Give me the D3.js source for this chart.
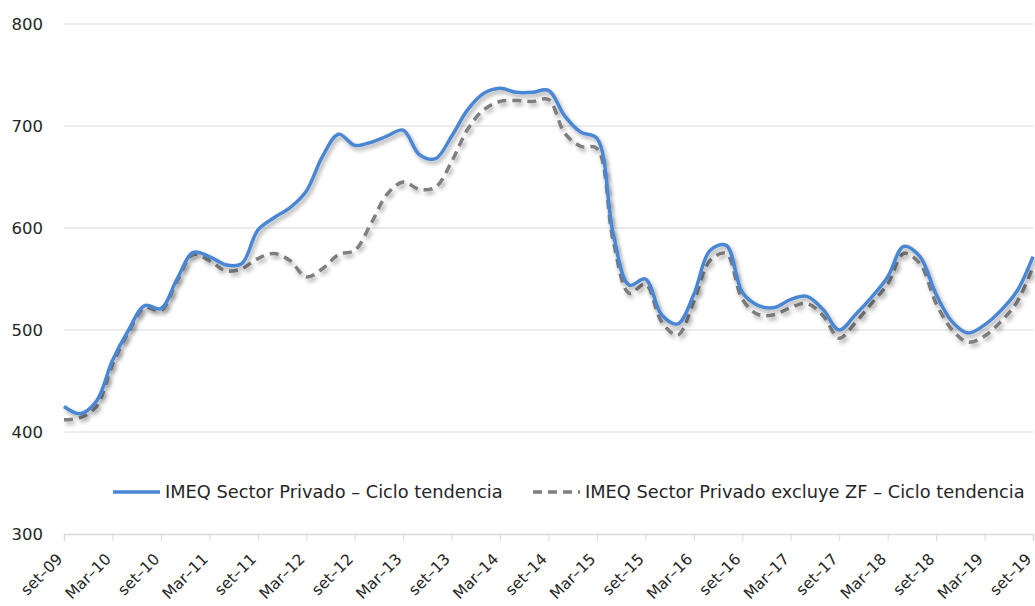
<!DOCTYPE html>
<html>
<head>
<meta charset="utf-8">
<script src="https://cdn.jsdelivr.net/npm/d3@7"></script>
<style>
  body { margin: 0; background: #fff; }
  text { font-family: "DejaVu Sans", sans-serif; fill: #262626; }
</style>
</head>
<body>
<svg id="chart"></svg>
<script>
// bimonthly points, set-09 .. set-19 (month offsets 0,2,...,120)
const months = d3.range(0, 121, 2);

const imeq = [
  425, 418, 430, 470, 500, 524, 521, 550, 576, 572, 564,
  565, 598, 610, 620, 636, 670, 692, 681, 684, 690, 696,
  672, 668, 690, 716, 732, 737, 733, 733, 735, 710, 694,
  688, 595, 544, 550, 515, 506, 535, 578, 583, 537, 524,
  522, 530, 533, 520, 500, 515, 532, 552, 582, 572, 535,
  508, 497, 505, 519, 538, 572
];

const imeqExZF = [
  412, 414, 425, 466, 498, 522, 519, 548, 574, 568, 558,
  560, 570, 575, 568, 552, 560, 574, 578, 604, 633, 645,
  638, 640, 665, 697, 716, 724, 725, 724, 726, 693, 680,
  678, 588, 536, 545, 508, 495, 528, 568, 575, 530, 515,
  515, 522, 526, 514, 492, 507, 526, 545, 575, 565, 526,
  500, 488, 494, 508, 527, 562
];

const tickLabels = [
  "set–09", "Mar–10", "set–10", "Mar–11", "set–11", "Mar–12", "set–12",
  "Mar–13", "set–13", "Mar–14", "set–14", "Mar–15", "set–15", "Mar–16",
  "set–16", "Mar–17", "set–17", "Mar–18", "set–18", "Mar–19", "set–19"
];
const yTicks = [300, 400, 500, 600, 700, 800];

const seriesNames = [
  "IMEQ Sector Privado – Ciclo tendencia",
  "IMEQ Sector Privado excluye ZF – Ciclo tendencia"
];

const width = 1035, height = 606;
const margin = { top: 24, right: 2, bottom: 72, left: 64 };

const svg = d3.select("#chart").attr("width", width).attr("height", height);

// drop shadow like the office chart
const defs = svg.append("defs");
const f = defs.append("filter").attr("id", "shadow")
  .attr("x", "-5%").attr("y", "-5%").attr("width", "110%").attr("height", "120%");
f.append("feDropShadow")
  .attr("dx", 2).attr("dy", 3).attr("stdDeviation", 2)
  .attr("flood-color", "#000").attr("flood-opacity", 0.35);

const x = d3.scaleLinear().domain([0, 120]).range([margin.left, width - margin.right]);
const y = d3.scaleLinear().domain([300, 800]).range([height - margin.bottom, margin.top]);

// grid
svg.append("g")
  .selectAll("line")
  .data(yTicks.slice(1))
  .join("line")
  .attr("x1", margin.left).attr("x2", width - margin.right)
  .attr("y1", d => y(d)).attr("y2", d => y(d))
  .attr("stroke", "#d9d9d9").attr("stroke-width", 1);

// y labels
svg.append("g")
  .selectAll("text")
  .data(yTicks)
  .join("text")
  .attr("x", 43).attr("y", d => y(d))
  .attr("dy", "0.35em")
  .attr("text-anchor", "end")
  .style("font-size", "16.5px")
  .text(d => d);

// x axis
const xAxis = d3.axisBottom(x)
  .tickValues(d3.range(0, 121, 6))
  .tickSize(7)
  .tickFormat((d, i) => tickLabels[i]);

const gx = svg.append("g")
  .attr("transform", `translate(0,${y(300)})`)
  .call(xAxis);
gx.select(".domain").attr("stroke", "#d9d9d9").attr("stroke-width", 1.5);
gx.selectAll(".tick line").attr("stroke", "#d9d9d9");
gx.selectAll(".tick text")
  .attr("text-anchor", "end")
  .attr("dy", null).attr("y", null)
  .attr("transform", "translate(-1,26) rotate(-45)")
  .style("font-size", "15.5px")
  .style("font-family", "DejaVu Sans, sans-serif")
  .attr("fill", "#262626");

const line = d3.line()
  .x((d, i) => x(months[i]))
  .y(d => y(d))
  .curve(d3.curveCatmullRom.alpha(0.5));

svg.append("path")
  .datum(imeqExZF)
  .attr("d", line)
  .attr("fill", "none")
  .attr("stroke", "#7f7f7f")
  .attr("stroke-width", 3.5)
  .attr("stroke-dasharray", "9,6")
  .attr("filter", "url(#shadow)");

svg.append("path")
  .datum(imeq)
  .attr("d", line)
  .attr("fill", "none")
  .attr("stroke", "#4a86d4")
  .attr("stroke-width", 3.5)
  .attr("filter", "url(#shadow)");

// legend
const legend = svg.append("g").attr("transform", "translate(0,492)");
const items = [
  { name: seriesNames[0], x: 113, color: "#4a86d4", dash: null },
  { name: seriesNames[1], x: 533, color: "#7f7f7f", dash: "9,6" }
];
items.forEach(it => {
  legend.append("line")
    .attr("x1", it.x).attr("x2", it.x + 47)
    .attr("y1", 0).attr("y2", 0)
    .attr("stroke", it.color).attr("stroke-width", 3.5)
    .attr("stroke-dasharray", it.dash);
  legend.append("text")
    .attr("x", it.x + 52).attr("y", 0).attr("dy", "0.35em")
    .style("font-size", "17.8px")
    .text(it.name);
});
</script>
</body>
</html>
